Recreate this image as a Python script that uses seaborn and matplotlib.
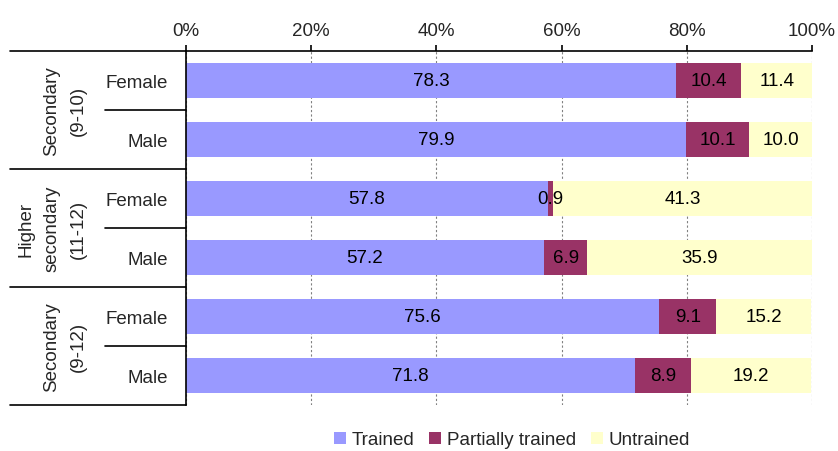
import matplotlib
matplotlib.use("Agg")
import matplotlib.pyplot as plt
from matplotlib.patches import Patch
import seaborn as sns
import pandas as pd

# chart data
groups = ["Secondary\n(9-10)", "Higher\nsecondary\n(11-12)", "Secondary\n(9-12)"]
sexes = ["Female", "Male", "Female", "Male", "Female", "Male"]
trained = [78.3, 79.9, 57.8, 57.2, 75.6, 71.8]
partial = [10.4, 10.1, 0.9, 6.9, 9.1, 8.9]
untrained = [11.4, 10.0, 41.3, 35.9, 15.2, 19.2]
series = ["Trained", "Partially trained", "Untrained"]
colors = ["#9999FF", "#993366", "#FFFFCC"]
ticks = [0, 20, 40, 60, 80, 100]

sns.set_style("white")
plt.rcParams["font.family"] = ["Liberation Sans", "DejaVu Sans"]
FS = 13.5

# one unique row id per bar
row_ids = [f"{groups[i // 2]}|{s}" for i, s in enumerate(sexes)]
df = pd.DataFrame({"row": row_ids, "Trained": trained,
                   "Partially trained": partial, "Untrained": untrained})
df["c1"] = df["Trained"]
df["c2"] = df["c1"] + df["Partially trained"]
df["c3"] = df["c2"] + df["Untrained"]

W, H = 838, 452
fig = plt.figure(figsize=(W / 100, H / 100), dpi=100)
ax = fig.add_axes([186 / W, 1 - 406 / H, 626 / W, 354 / H])

# stacked bars: draw cumulative totals back to front
for col, c in zip(["c3", "c2", "c1"], colors[::-1]):
    sns.barplot(data=df, y="row", x=col, order=row_ids, color=c,
                saturation=1, width=0.58, orient="h", linewidth=0, ax=ax)

# segment labels
for i in range(len(df)):
    starts = [0, df["c1"][i], df["c2"][i]]
    for s, name in zip(starts, series):
        v = df[name][i]
        ax.text(s + v / 2, i, f"{v:.1f}", ha="center", va="center",
                fontsize=FS, color="black")

ax.set_xlim(0, 100)
ax.set_ylim(5.5, -0.5)
ax.set_xlabel("")
ax.set_ylabel("")
ax.xaxis.tick_top()
ax.set_xticks(ticks)
ax.set_xticklabels([f"{t}%" for t in ticks], fontsize=FS)
ax.tick_params(axis="x", direction="out", length=4, width=1.2,
               color="black", pad=5)
ax.set_yticks(range(len(sexes)))
ax.set_yticklabels(sexes, fontsize=FS)
ax.tick_params(axis="y", length=0, pad=13)

ax.grid(axis="x", color="#808080", linestyle=(0, (2, 2)), linewidth=0.8)
ax.grid(axis="y", visible=False)
ax.set_axisbelow(True)
for side in ["right", "bottom"]:
    ax.spines[side].set_visible(False)
for side in ["top", "left"]:
    ax.spines[side].set_color("black")
    ax.spines[side].set_linewidth(1.2)

# multi-level category lines and group labels
tr = ax.get_yaxis_transform()
x_outer = (10 - 186) / 626
x_inner = (105 - 186) / 626
for y in [-0.5, 1.5, 3.5, 5.5]:
    ax.plot([x_outer, 0], [y, y], color="black", lw=1.2,
            transform=tr, clip_on=False)
for y in [0.5, 2.5, 4.5]:
    ax.plot([x_inner, 0], [y, y], color="black", lw=1.2,
            transform=tr, clip_on=False)
group_x = [(65 - 186) / 626, (52 - 186) / 626, (65 - 186) / 626]
for k, g in enumerate(groups):
    ax.text(group_x[k], 2 * k + 0.5, g, rotation=90, ha="center",
            va="center", multialignment="center", linespacing=1.7,
            fontsize=FS, transform=tr)

handles = [Patch(facecolor=c, edgecolor="none") for c in colors]
fig.legend(handles, series, loc="center", bbox_to_anchor=(512 / W, 1 - 441 / H),
           ncol=3, frameon=False, fontsize=FS, handlelength=0.65,
           handleheight=0.65, handletextpad=0.3, columnspacing=0.8,
           borderaxespad=0, borderpad=0)

fig.savefig("out.png", dpi=100)
